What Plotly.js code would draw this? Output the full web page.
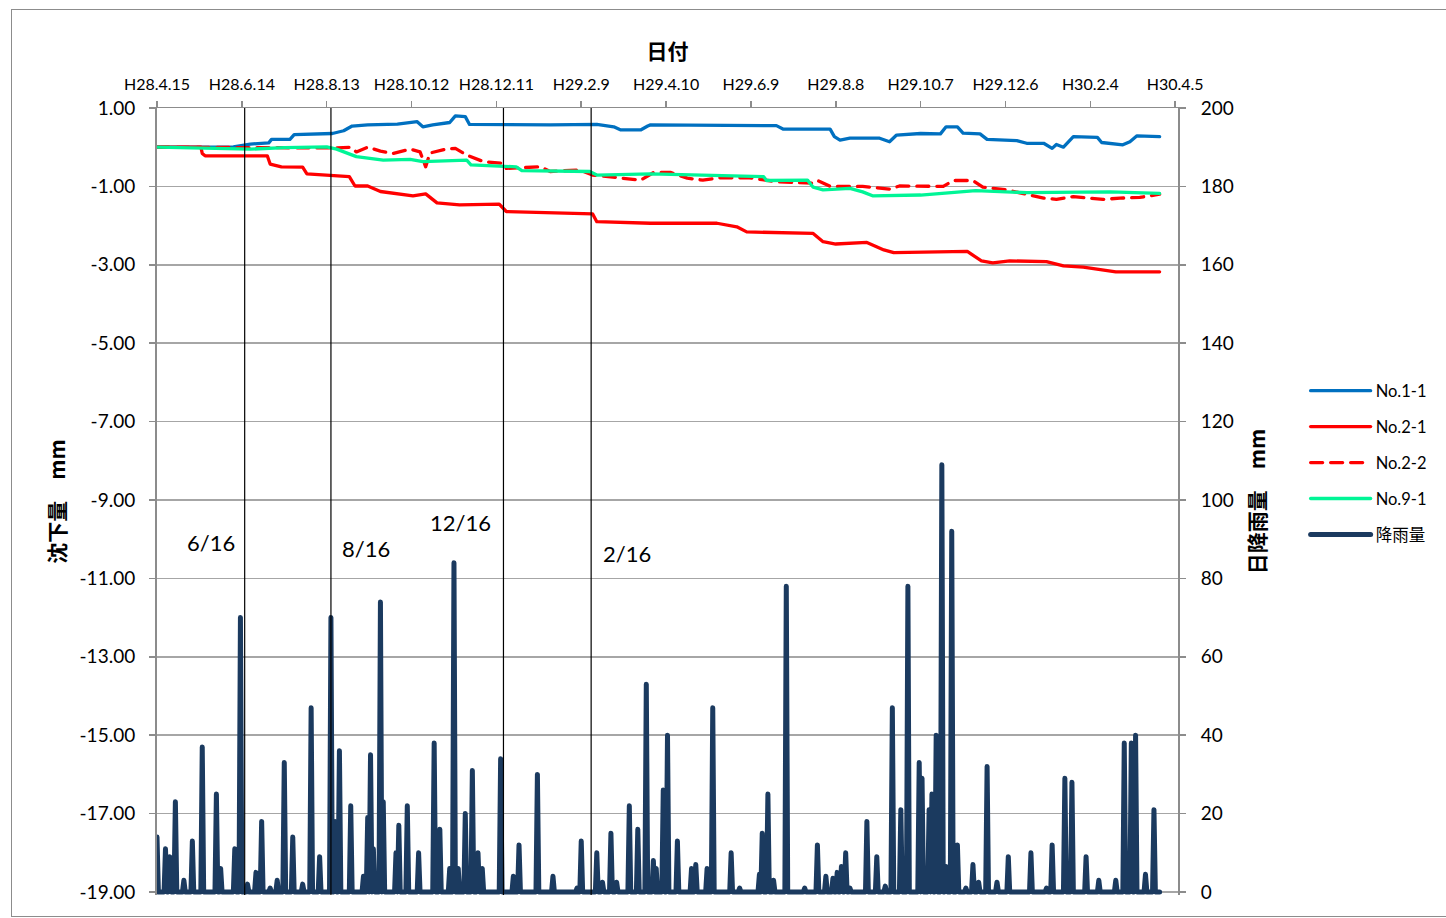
<!DOCTYPE html>
<html>
<head>
<meta charset="utf-8">
<script src="https://cdn.plot.ly/plotly-3.0.1.min.js"></script>
<style>
  html, body { margin:0; padding:0; background:#fff; }
  #wrap { position:relative; width:1446px; height:918px; overflow:hidden; }
  #chart { position:absolute; left:0; top:0; width:1446px; height:918px; }
  #frame { position:absolute; left:11px; top:9px; width:1460px; height:906px; border:1.5px solid #8c8c8c; pointer-events:none; }
  #chart .js-line, #chart .legendlines path { stroke-linejoin: round; stroke-linecap: round; }
</style>
</head>
<body>
<div id="wrap"><div id="chart"></div><div id="frame"></div></div>
<script>
// ---- axis ticks ----
const tickDates = ['2016-04-15','2016-06-14','2016-08-13','2016-10-12','2016-12-11','2017-02-09','2017-04-10','2017-06-09','2017-08-08','2017-10-07','2017-12-06','2018-02-04','2018-04-05'];
const tickLabels = ['H28.4.15','H28.6.14','H28.8.13','H28.10.12','H28.12.11','H29.2.9','H29.4.10','H29.6.9','H29.8.8','H29.10.7','H29.12.6','H30.2.4','H30.4.5'];
const leftTickVals = [1,-1,-3,-5,-7,-9,-11,-13,-15,-17,-19];
const leftTickText = ['1.00','-1.00','-3.00','-5.00','-7.00','-9.00','-11.00','-13.00','-15.00','-17.00','-19.00'];

// ---- settlement series (mm) ----
const no11Dates = ['2016-04-15','2016-06-08','2016-06-20','2016-07-03','2016-07-05','2016-07-18','2016-07-21','2016-08-11','2016-08-17','2016-08-25','2016-08-31','2016-09-11','2016-10-02','2016-10-16','2016-10-20','2016-10-27','2016-11-08','2016-11-12','2016-11-19','2016-11-22','2016-12-14','2017-01-18','2017-02-20','2017-03-04','2017-03-09','2017-03-23','2017-03-28','2017-03-30','2017-06-27','2017-07-02','2017-08-04','2017-08-07','2017-08-11','2017-08-18','2017-09-08','2017-09-15','2017-09-20','2017-10-07','2017-10-21','2017-10-25','2017-11-02','2017-11-06','2017-11-18','2017-11-23','2017-12-14','2017-12-21','2018-01-02','2018-01-08','2018-01-11','2018-01-16','2018-01-23','2018-02-09','2018-02-12','2018-02-27','2018-03-04','2018-03-09','2018-03-25'];
const no11Vals = [0.00,0.01,0.08,0.11,0.20,0.20,0.32,0.35,0.35,0.42,0.54,0.57,0.59,0.65,0.52,0.57,0.63,0.80,0.78,0.58,0.57,0.57,0.58,0.52,0.44,0.44,0.54,0.57,0.55,0.46,0.46,0.27,0.18,0.23,0.23,0.14,0.31,0.35,0.34,0.52,0.52,0.36,0.34,0.20,0.17,0.10,0.10,-0.03,0.07,0.00,0.27,0.25,0.12,0.06,0.14,0.29,0.27];

const no21Dates = ['2016-04-15','2016-05-16','2016-05-17','2016-05-19','2016-07-02','2016-07-04','2016-07-12','2016-07-27','2016-07-30','2016-08-16','2016-08-29','2016-09-02','2016-09-11','2016-09-20','2016-10-04','2016-10-13','2016-10-22','2016-10-30','2016-11-15','2016-12-13','2016-12-18','2017-02-13','2017-02-17','2017-02-20','2017-03-30','2017-05-16','2017-05-30','2017-06-06','2017-07-23','2017-07-30','2017-08-08','2017-08-30','2017-09-11','2017-09-18','2017-11-09','2017-11-19','2017-11-27','2017-12-09','2018-01-04','2018-01-16','2018-01-30','2018-02-22','2018-03-25'];
const no21Vals = [0,0,-0.16,-0.22,-0.22,-0.43,-0.50,-0.51,-0.68,-0.71,-0.75,-0.99,-0.99,-1.13,-1.19,-1.24,-1.19,-1.42,-1.47,-1.45,-1.64,-1.68,-1.70,-1.90,-1.94,-1.94,-2.03,-2.16,-2.20,-2.41,-2.47,-2.43,-2.62,-2.69,-2.66,-2.90,-2.95,-2.90,-2.92,-3.03,-3.06,-3.18,-3.18];

const no22Dates = ['2016-04-15','2016-06-20','2016-08-20','2016-08-30','2016-09-03','2016-09-11','2016-09-20','2016-09-29','2016-10-11','2016-10-18','2016-10-22','2016-10-25','2016-11-05','2016-11-12','2016-11-20','2016-12-02','2016-12-16','2016-12-18','2017-01-11','2017-01-18','2017-02-08','2017-02-17','2017-02-27','2017-03-13','2017-03-23','2017-04-01','2017-04-13','2017-04-25','2017-05-06','2017-05-18','2017-06-08','2017-06-27','2017-07-23','2017-07-26','2017-08-04','2017-08-27','2017-09-15','2017-09-22','2017-10-23','2017-10-30','2017-11-13','2017-11-20','2017-12-07','2018-01-02','2018-01-11','2018-01-23','2018-02-13','2018-02-25','2018-03-11','2018-03-25'];
const no22Vals = [0,-0.02,-0.02,0,-0.12,0,-0.10,-0.16,-0.05,-0.12,-0.50,-0.15,-0.05,-0.03,-0.20,-0.37,-0.41,-0.54,-0.50,-0.62,-0.58,-0.71,-0.75,-0.82,-0.84,-0.65,-0.64,-0.79,-0.84,-0.78,-0.78,-0.88,-0.92,-0.85,-1.00,-1.00,-1.07,-0.99,-1.00,-0.85,-0.85,-1.02,-1.09,-1.30,-1.33,-1.26,-1.33,-1.30,-1.28,-1.20];

const no91Dates = ['2016-04-15','2016-06-08','2016-06-20','2016-07-14','2016-08-13','2016-08-20','2016-09-03','2016-09-22','2016-10-11','2016-10-20','2016-11-20','2016-11-23','2016-12-25','2016-12-29','2017-02-15','2017-02-20','2017-03-30','2017-06-18','2017-06-20','2017-07-19','2017-07-23','2017-07-30','2017-08-18','2017-08-27','2017-09-03','2017-10-07','2017-11-15','2017-12-21','2018-01-21','2018-02-18','2018-03-25'];
const no91Vals = [0,-0.05,-0.05,-0.01,0.01,-0.05,-0.24,-0.33,-0.31,-0.37,-0.33,-0.45,-0.50,-0.60,-0.62,-0.71,-0.68,-0.75,-0.85,-0.84,-1.02,-1.09,-1.05,-1.14,-1.24,-1.22,-1.11,-1.16,-1.16,-1.14,-1.18];

// ---- daily rainfall (mm), rainy days only; all other days are 0 ----
const rainStart = '2016-04-15';
const rainEnd = '2018-03-25';
const rainDates = ['2016-04-15','2016-04-21','2016-04-24','2016-04-28','2016-05-04','2016-05-10','2016-05-17','2016-05-27','2016-05-30','2016-06-09',
'2016-06-13','2016-06-18','2016-06-24','2016-06-28','2016-07-04','2016-07-09','2016-07-14','2016-07-20','2016-07-27','2016-08-02',
'2016-08-08','2016-08-16','2016-08-19','2016-08-22','2016-08-30','2016-09-08','2016-09-11','2016-09-13','2016-09-15','2016-09-20',
'2016-09-22','2016-10-01','2016-10-03','2016-10-09','2016-10-17','2016-10-28','2016-11-01','2016-11-08','2016-11-11','2016-11-14',
'2016-11-19','2016-11-24','2016-11-28','2016-12-01','2016-12-14','2016-12-23','2016-12-27','2017-01-09','2017-01-20','2017-02-06',
'2017-02-09','2017-02-20','2017-02-24','2017-03-02','2017-03-06','2017-03-15','2017-03-21','2017-03-27','2017-04-01','2017-04-03',
'2017-04-08','2017-04-11','2017-04-18','2017-04-28','2017-05-01','2017-05-09','2017-05-13','2017-05-26','2017-06-01','2017-06-15',
'2017-06-17','2017-06-21','2017-06-25','2017-07-04','2017-07-17','2017-07-26','2017-08-01','2017-08-06','2017-08-09','2017-08-12',
'2017-08-15','2017-08-18','2017-08-30','2017-09-06','2017-09-12','2017-09-17','2017-09-23','2017-09-28','2017-10-06','2017-10-08',
'2017-10-13','2017-10-15','2017-10-18','2017-10-22','2017-10-25','2017-10-29','2017-11-02','2017-11-08','2017-11-13','2017-11-17',
'2017-11-23','2017-11-30','2017-12-08','2017-12-24','2018-01-04','2018-01-08','2018-01-17','2018-01-22','2018-02-01','2018-02-10',
'2018-02-22','2018-02-28','2018-03-05','2018-03-08','2018-03-15','2018-03-21'];
const rainMm = [14,11,9,23,3,13,37,25,6,11,
70,2,5,18,1,3,33,14,2,47,
9,70,18,36,22,4,19,35,11,74,
23,10,17,22,10,38,16,6,84,6,
20,31,10,6,34,4,12,30,4,1,
13,10,2.5,15,2.5,22,16,53,8,6,
26,40,13,6,7,6,47,10,1,4.5,
15,25,3,78,1,12,4,3.5,5,6.5,
10,1,18,9,1.5,47,21,78,33,29,
21,25,40,109,6.5,92,12,1,7,2.5,
32,2.5,9,10,1,12,29,28,9,3,
3,38,38,40,4.5,21];

// ---- event markers ----
const eventDates = ['2016-06-16','2016-08-16','2016-12-16','2017-02-16'];
const eventLabels = ['6/16','8/16','12/16','2/16'];

// build daily rain series (dry days = 0)
const rainMap = {};
rainDates.forEach((d,i) => { rainMap[d] = rainMm[i]; });
const rainX = [], rainY = [];
{
  const s = new Date(rainStart + 'T00:00:00Z'), e = new Date(rainEnd + 'T00:00:00Z');
  for (let t = s.getTime(); t <= e.getTime(); t += 86400000) {
    const k = new Date(t).toISOString().slice(0,10);
    rainX.push(k); rainY.push(rainMap[k] !== undefined ? rainMap[k] : 0);
  }
}

const traces = [
  {x:no11Dates, y:no11Vals, name:'No.1-1', type:'scatter', mode:'lines', line:{color:'#0070c0', width:3.3}, legendgroup:'a'},
  {x:no21Dates, y:no21Vals, name:'No.2-1', type:'scatter', mode:'lines', line:{color:'#ff0000', width:3.3}, legendgroup:'b'},
  {x:no22Dates, y:no22Vals, name:'No.2-2', type:'scatter', mode:'lines', line:{color:'#ff0000', width:3.3, dash:'12px,8px'}, legendgroup:'c'},
  {x:no91Dates, y:no91Vals, name:'No.9-1', type:'scatter', mode:'lines', line:{color:'#00f596', width:3.3}, legendgroup:'d'},
  {x:rainX, y:rainY, name:'降雨量', type:'scatter', mode:'lines', yaxis:'y2', line:{color:'#1b3a5f', width:5}, legendgroup:'e'}
];

const labelStyle = [
  {xshift:-34, y:0.4482},
  {xshift:35, y:0.4406},
  {xshift:-43, y:0.4736},
  {xshift:36, y:0.4342}
];

const shapes = eventDates.map(d => ({
  type:'line', xref:'x', yref:'paper', x0:d, x1:d, y0:0, y1:1,
  line:{color:'#000', width:1.2}, layer:'above'
}));
const annotations = eventDates.map((d,i) => ({
  x:d, xref:'x', yref:'paper', y:labelStyle[i].y, xshift:labelStyle[i].xshift,
  text:eventLabels[i], showarrow:false, xanchor:'center', yanchor:'middle',
  font:{size:22, color:'#000', family:'Lato, sans-serif'}
}));

const titleFont = {family:'"Noto Sans CJK JP", sans-serif', size:21, color:'#000', weight:'bold'};

const layout = {
  width:1446, height:918,
  margin:{l:157, r:268, t:108, b:23},
  paper_bgcolor:'#ffffff', plot_bgcolor:'#ffffff',
  font:{family:'Lato, "Noto Sans CJK JP", sans-serif', color:'#000'},
  showlegend:true,
  legend:{x:1.125, xanchor:'left', y:0.549, yanchor:'middle', traceorder:'grouped', tracegroupgap:11.5,
          font:{size:16.5, color:'#000', family:'Lato, "Noto Sans CJK JP", sans-serif'}, itemwidth:60, bgcolor:'rgba(0,0,0,0)'},
  xaxis:{type:'date', side:'top', range:['2016-04-15','2018-04-07'], tickmode:'array', tickvals:tickDates, ticktext:tickLabels,
         ticks:'outside', ticklen:6, tickwidth:1.5, tickcolor:'#8c8c8c', tickfont:{size:16, color:'#000'}, ticklabelstandoff:4,
         showgrid:false, zeroline:false, showline:true, linecolor:'#8c8c8c', linewidth:1.5, mirror:false,
         title:{text:'日付', font:titleFont, standoff:8}},
  yaxis:{range:[-19.077,1], tickmode:'array', tickvals:leftTickVals, ticktext:leftTickText,
         ticks:'outside', ticklen:6, tickwidth:1.5, tickcolor:'#8c8c8c', tickfont:{size:19, color:'#000'}, ticklabelstandoff:10,
         showgrid:true, gridcolor:'#a6a6a6', gridwidth:1.5, zeroline:false, showline:true, linecolor:'#8c8c8c', linewidth:2,
         title:{text:'沈下量　mm', font:titleFont, standoff:8}},
  yaxis2:{overlaying:'y', side:'right', range:[-0.77,200], tickmode:'linear', tick0:0, dtick:20,
          ticks:'outside', ticklen:6, tickwidth:1.5, tickcolor:'#8c8c8c', tickfont:{size:19, color:'#000'}, ticklabelstandoff:11,
          showgrid:false, zeroline:false, showline:true, linecolor:'#8c8c8c', linewidth:2,
          title:{text:'日降雨量　mm', font:titleFont, standoff:17}},
  shapes:shapes,
  annotations:annotations
};

Plotly.newPlot('chart', traces, layout, {displayModeBar:false, staticPlot:true});
</script>
</body>
</html>
